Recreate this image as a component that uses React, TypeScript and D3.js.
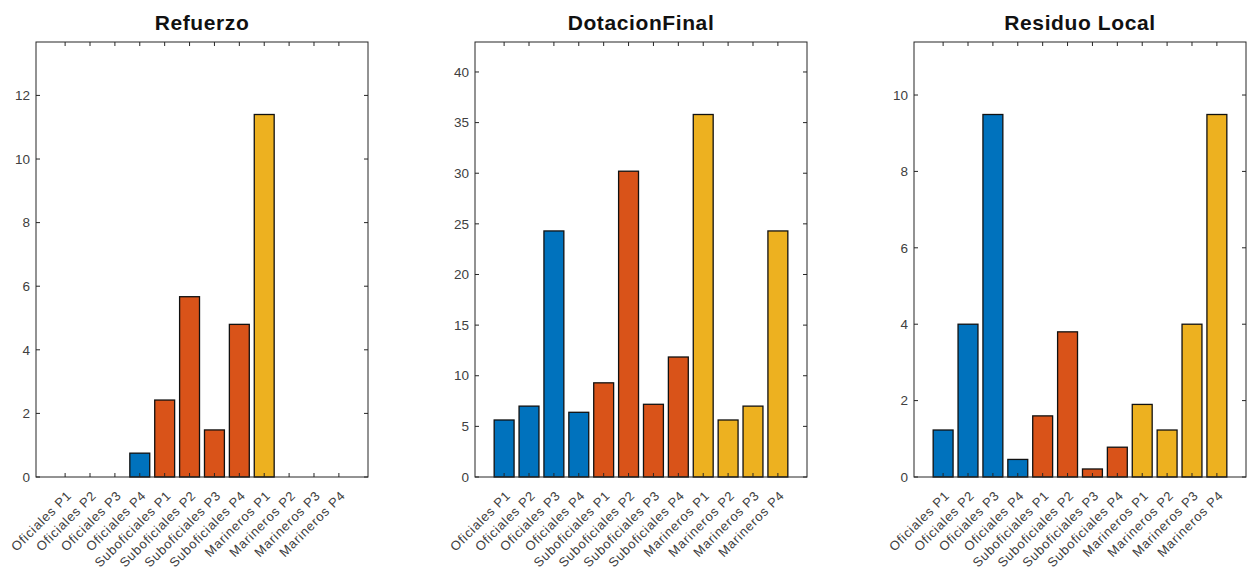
import React from "react";
import * as d3 from "d3";

const categories = [
  "Oficiales P1", "Oficiales P2", "Oficiales P3", "Oficiales P4",
  "Suboficiales P1", "Suboficiales P2", "Suboficiales P3", "Suboficiales P4",
  "Marineros P1", "Marineros P2", "Marineros P3", "Marineros P4",
];
const groupOf = [0, 0, 0, 0, 1, 1, 1, 1, 2, 2, 2, 2];
const groupColors = ["#0072BD", "#D95319", "#EDB120"];

const refuerzo = [0, 0, 0, 0.75, 2.42, 5.67, 1.48, 4.8, 11.4, 0, 0, 0];
const dotacionFinal = [5.63, 7.0, 24.3, 6.39, 9.3, 30.2, 7.18, 11.85, 35.8, 5.63, 7.0, 24.3];
const residuoLocal = [1.23, 4.0, 9.49, 0.46, 1.6, 3.8, 0.21, 0.78, 1.9, 1.23, 4.0, 9.49];

const titles = ["Refuerzo", "DotacionFinal", "Residuo Local"];
const seriesList = [refuerzo, dotacionFinal, residuoLocal];
const yTicksList = [
  [0, 2, 4, 6, 8, 10, 12],
  [0, 5, 10, 15, 20, 25, 30, 35, 40],
  [0, 2, 4, 6, 8, 10],
];

const W = 1252;
const H = 569;
const panelLeft = [36, 475, 914];
const panelWidth = 332;
const top = 42;
const bottom = 477;
const font = "'Liberation Sans', Arial, Helvetica, sans-serif";
const axisColor = "#262626";
const textColor = "#404040";

function Panel({ idx }: { idx: number }) {
  const values = seriesList[idx];
  const x0 = panelLeft[idx];
  const x1 = x0 + panelWidth;
  const pad = 1.17;
  const x = d3.scaleLinear().domain([1 - pad, categories.length + pad]).range([x0, x1]);
  const ymax = (d3.max(values) as number) * 1.2;
  const y = d3.scaleLinear().domain([0, ymax]).range([bottom, top]);
  const step = x(2) - x(1);
  const bw = step * 0.8;
  const tl = 4;
  return (
    <g>
      <text
        x={(x0 + x1) / 2}
        y={30}
        textAnchor="middle"
        fontFamily={font}
        fontWeight="bold"
        fontSize={21}
        letterSpacing={0.6}
        fill="#111"
      >
        {titles[idx]}
      </text>
      <rect x={x0} y={top} width={panelWidth} height={bottom - top} fill="white" />
      {values.map((v, i) =>
        v > 0 ? (
          <rect
            key={i}
            x={x(i + 1) - bw / 2}
            y={y(v)}
            width={bw}
            height={y(0) - y(v)}
            fill={groupColors[groupOf[i]]}
            stroke="#111"
            strokeWidth={1.3}
          />
        ) : null
      )}
      <rect
        x={x0}
        y={top}
        width={panelWidth}
        height={bottom - top}
        fill="none"
        stroke={axisColor}
        strokeWidth={1}
      />
      {yTicksList[idx].map((t) => (
        <g key={"y" + t}>
          <line x1={x0} x2={x0 + tl} y1={y(t)} y2={y(t)} stroke={axisColor} />
          <line x1={x1} x2={x1 - tl} y1={y(t)} y2={y(t)} stroke={axisColor} />
          <text
            x={x0 - 6}
            y={y(t)}
            dy="0.35em"
            textAnchor="end"
            fontFamily={font}
            fontSize={13.5}
            fill={textColor}
          >
            {t}
          </text>
        </g>
      ))}
      {categories.map((c, i) => {
        const cx = x(i + 1);
        return (
          <g key={"x" + i}>
            <line x1={cx} x2={cx} y1={bottom} y2={bottom - tl} stroke={axisColor} />
            <line x1={cx} x2={cx} y1={top} y2={top + tl} stroke={axisColor} />
            <text
              transform={`translate(${cx + 4},${bottom + 16}) rotate(-45)`}
              dy="0.35em"
              textAnchor="end"
              fontFamily={font}
              fontSize={13}
              letterSpacing={0.8}
              fill={textColor}
            >
              {c}
            </text>
          </g>
        );
      })}
    </g>
  );
}

export default function App() {
  return (
    <div style={{ position: "absolute", left: 0, top: 0 }}>
      <svg width={W} height={H} viewBox={`0 0 ${W} ${H}`} style={{ display: "block", background: "white" }}>
        <rect x={0} y={0} width={W} height={H} fill="white" />
        {[0, 1, 2].map((i) => (
          <Panel key={i} idx={i} />
        ))}
      </svg>
    </div>
  );
}
